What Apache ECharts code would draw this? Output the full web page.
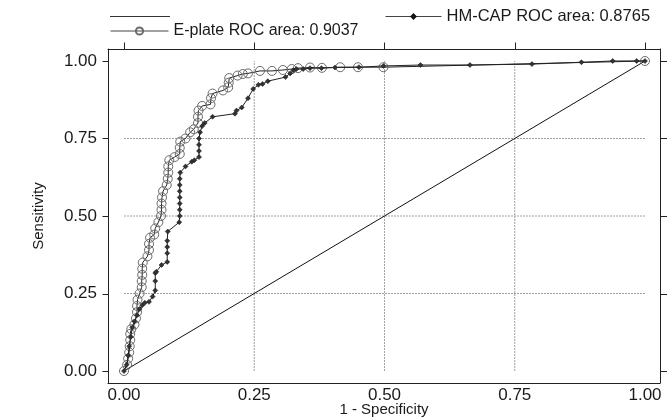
<!DOCTYPE html>
<html>
<head>
<meta charset="utf-8">
<script src="https://cdn.jsdelivr.net/npm/echarts@6/dist/echarts.min.js"></script>
<style>
html,body{margin:0;padding:0;background:#fff;}
#chart{width:667px;height:419px;}
</style>
</head>
<body>
<div id="chart"></div>
<script>
// ---- data ----
const tickValues = [0, 0.25, 0.5, 0.75, 1];
const gridValues = [0.25, 0.5, 0.75];

const ePlateName = 'E-plate ROC area: 0.9037';
const ePlateX = [0,0.006,0.008,0.010,0.011,0.012,0.012,0.014,0.020,0.023,0.025,0.025,0.026,0.030,0.034,0.034,0.035,0.035,0.036,0.045,0.048,0.048,0.050,0.058,0.060,0.066,0.071,0.072,0.072,0.073,0.075,0.082,0.084,0.085,0.085,0.087,0.097,0.107,0.107,0.108,0.118,0.127,0.134,0.142,0.142,0.143,0.150,0.166,0.167,0.170,0.190,0.200,0.201,0.202,0.218,0.228,0.238,0.261,0.284,0.305,0.322,0.334,0.357,0.380,0.415,0.449,0.498,1];
const ePlateY = [0,0.02,0.04,0.06,0.08,0.10,0.12,0.135,0.15,0.17,0.19,0.21,0.23,0.25,0.27,0.29,0.31,0.33,0.35,0.37,0.39,0.41,0.43,0.44,0.46,0.48,0.50,0.52,0.54,0.56,0.58,0.60,0.62,0.64,0.66,0.68,0.69,0.70,0.72,0.74,0.75,0.77,0.78,0.80,0.82,0.84,0.855,0.86,0.88,0.895,0.905,0.915,0.93,0.945,0.953,0.958,0.96,0.968,0.968,0.971,0.974,0.977,0.979,0.978,0.98,0.98,0.98,1];

const hmCapName = 'HM-CAP ROC area: 0.8765';
const hmCapX = [0,0.005,0.008,0.010,0.013,0.016,0.020,0.025,0.030,0.035,0.040,0.048,0.055,0.060,0.060,0.060,0.062,0.072,0.083,0.083,0.083,0.083,0.084,0.106,0.107,0.107,0.107,0.107,0.107,0.107,0.107,0.108,0.118,0.130,0.135,0.144,0.144,0.144,0.144,0.146,0.150,0.155,0.170,0.213,0.216,0.226,0.238,0.248,0.258,0.266,0.276,0.310,0.319,0.325,0.331,0.344,0.357,0.379,0.405,0.451,0.498,0.569,0.664,0.783,0.878,0.938,0.984,1];
const hmCapY = [0,0.02,0.05,0.08,0.11,0.14,0.16,0.18,0.20,0.212,0.22,0.223,0.24,0.26,0.29,0.316,0.32,0.342,0.352,0.38,0.40,0.42,0.45,0.48,0.50,0.52,0.54,0.56,0.58,0.60,0.62,0.64,0.66,0.675,0.68,0.69,0.71,0.73,0.75,0.77,0.79,0.80,0.82,0.83,0.84,0.85,0.88,0.91,0.923,0.926,0.935,0.948,0.96,0.97,0.974,0.974,0.977,0.977,0.979,0.98,0.984,0.987,0.987,0.99,0.996,1.0,1.0,1];

const refName = 'Reference';
const refX = [0, 1];
const refY = [0, 1];

const xTitle = '1 - Specificity';
const yTitle = 'Sensitivity';

// ---- build ----
(function () {
  const zip = (xs, ys) => xs.map((x, i) => [x, ys[i]]);
  const FONT = '"Liberation Sans", Arial, Helvetica, sans-serif';
  const INK = '#1a1a1a';
  const fmt = v => v.toFixed(2);

  const xMin = -0.0307, xMax = 1.0288;
  const yMin = -0.0387, yMax = 1.0387;

  const deco = [];
  const seg = (a, b, style, z) => deco.push({
    type: 'line', silent: true, symbol: 'none', z: z,
    data: [a, b], lineStyle: style
  });
  const gridStyle = { color: '#a0a0a0', width: 1, type: [2, 1] };
  gridValues.forEach(v => {
    seg([v, 0], [v, 1], gridStyle, 1);
    seg([0, v], [1, v], gridStyle, 1);
  });

  const legendText = { fontFamily: FONT, fontSize: 16, color: INK };
  const frameLine = { show: true, onZero: false, lineStyle: { color: '#222', width: 1 } };

  const chart = echarts.init(document.getElementById('chart'), null, { renderer: 'canvas' });
  chart.setOption({
    animation: false,
    backgroundColor: '#fff',
    textStyle: { fontFamily: FONT, color: INK },
    grid: {
      left: 108, right: 7, top: 49, bottom: 36,
      containLabel: false, outerBoundsMode: 'none',
      show: false
    },
    legend: [
      {
        data: [{ name: refName, icon: 'rect' }], left: 110, top: 16, padding: 0,
        itemWidth: 60, itemHeight: 1, formatter: () => '', selectedMode: false,
        itemStyle: { color: '#333' },
        textStyle: { fontFamily: FONT, fontSize: 2 }
      },
      {
        data: [hmCapName], left: 385, top: 8, padding: 0,
        itemWidth: 56, itemHeight: 5, selectedMode: false,
        lineStyle: { width: 1, color: '#444' },
        textStyle: { fontFamily: FONT, fontSize: 16.5, color: INK }
      },
      {
        data: [ePlateName], left: 110, top: 23, padding: 0,
        itemWidth: 58, itemHeight: 9, selectedMode: false,
        lineStyle: { width: 1, color: '#444' },
        textStyle: legendText
      }
    ],
    xAxis: [
      {
        type: 'value', position: 'bottom', min: xMin, max: xMax,
        axisLine: frameLine,
        axisTick: { show: false },
        splitLine: { show: false },
        axisLabel: {
          customValues: tickValues, formatter: fmt, margin: 4,
          fontFamily: FONT, fontSize: 17, color: INK
        },
        name: xTitle, nameLocation: 'middle', nameGap: 19, nameMoveOverlap: false,
        nameTextStyle: { fontFamily: FONT, fontSize: 15, color: INK }
      },
      {
        type: 'value', position: 'top', min: xMin, max: xMax,
        axisLine: frameLine,
        axisTick: { show: false },
        axisLabel: { show: false },
        splitLine: { show: false }
      }
    ],
    yAxis: [
      {
        type: 'value', position: 'left', min: yMin, max: yMax,
        axisLine: frameLine,
        axisTick: { show: false },
        splitLine: { show: false },
        axisLabel: {
          customValues: tickValues, formatter: fmt, margin: 11,
          fontFamily: FONT, fontSize: 17, color: INK
        },
        name: yTitle, nameLocation: 'middle', nameGap: 62, nameRotate: 90, nameMoveOverlap: false,
        nameTextStyle: { fontFamily: FONT, fontSize: 15, color: INK }
      },
      {
        type: 'value', position: 'right', min: yMin, max: yMax,
        axisLine: frameLine,
        axisTick: { show: false },
        axisLabel: { show: false },
        splitLine: { show: false }
      }
    ],
    series: deco.concat([
      {
        name: refName, type: 'line', symbol: 'none', z: 3,
        data: zip(refX, refY),
        lineStyle: { color: '#111', width: 1 },
        itemStyle: { color: '#111' }
      },
      {
        name: ePlateName, type: 'line', symbol: 'circle', symbolSize: 9, z: 4,
        data: zip(ePlateX, ePlateY),
        lineStyle: { color: '#222', width: 1 },
        itemStyle: { color: 'rgba(255,255,255,0)', borderColor: '#6a6a6a', borderWidth: 1 }
      },
      {
        name: hmCapName, type: 'line', symbol: 'diamond', symbolSize: 5, z: 5,
        data: zip(hmCapX, hmCapY),
        lineStyle: { color: '#222', width: 1 },
        itemStyle: { color: '#333', borderColor: '#111', borderWidth: 0.5 }
      }
    ])
  });

  // outward tick marks on the frame, positioned through the axes' own scales
  const toPxX = v => Math.round(chart.convertToPixel({ xAxisIndex: 0 }, v)) + 0.5;
  const toPxY = v => Math.round(chart.convertToPixel({ yAxisIndex: 0 }, v)) + 0.5;
  const frameLeft = toPxX(xMin), frameRight = toPxX(xMax), frameTop = toPxY(yMax);
  const tickLines = [];
  const tl = (x1, y1, x2, y2) => tickLines.push({
    type: 'line', silent: true, z: 10,
    shape: { x1: x1, y1: y1, x2: x2, y2: y2 }, style: { stroke: '#222', lineWidth: 1 }
  });
  tickValues.forEach(v => {
    tl(toPxX(v), frameTop, toPxX(v), frameTop - 7);
    tl(frameLeft, toPxY(v), frameLeft - 6, toPxY(v));
    tl(frameRight, toPxY(v), frameRight + 7, toPxY(v));
  });
  chart.setOption({ graphic: tickLines });
})();
</script>
</body>
</html>
